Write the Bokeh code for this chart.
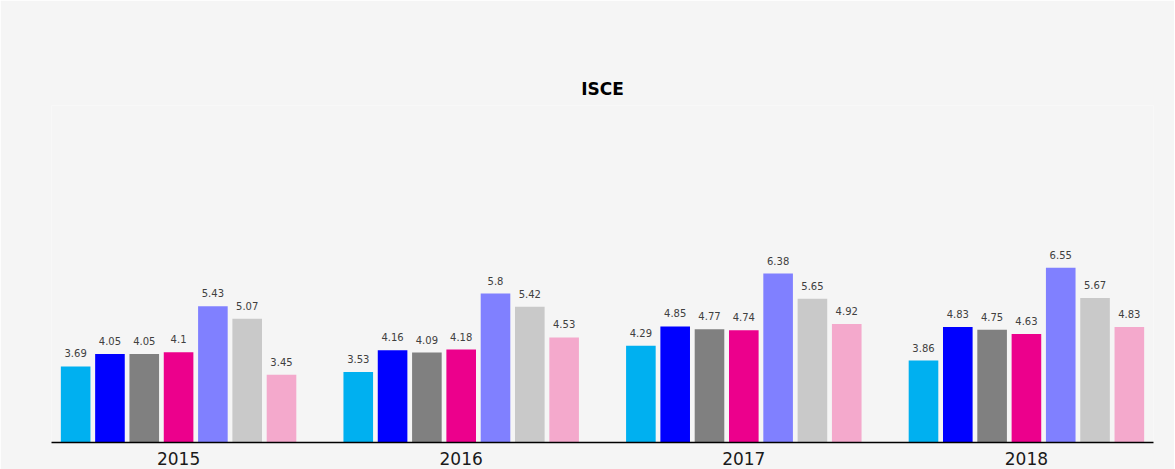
from bokeh.plotting import figure
from bokeh.models import ColumnDataSource, FactorRange, Range1d, LabelSet
from bokeh.transform import dodge
from bokeh.core.properties import value
from bokeh.embed import file_html
from bokeh.resources import INLINE

years = ["2015", "2016", "2017", "2018"]
series_names = ["s1", "s2", "s3", "s4", "s5", "s6", "s7"]
s1 = [3.69, 3.53, 4.29, 3.86]
s2 = [4.05, 4.16, 4.85, 4.83]
s3 = [4.05, 4.09, 4.77, 4.75]
s4 = [4.1, 4.18, 4.74, 4.63]
s5 = [5.43, 5.8, 6.38, 6.55]
s6 = [5.07, 5.42, 5.65, 5.67]
s7 = [3.45, 4.53, 4.92, 4.83]
colors = ["#00B0F0", "#0000FF", "#808080", "#EC008C", "#8080FF", "#C9C9C9", "#F4A9CC"]

all_series = [s1, s2, s3, s4, s5, s6, s7]
data = {"year": years}
for name, vals in zip(series_names, all_series):
    data[name] = vals
    data[name + "_lbl"] = [("%g" % v) for v in vals]
source = ColumnDataSource(data)

BG = "#F5F5F5"
p = figure(
    frame_width=1102, frame_height=337,
    x_range=FactorRange(factors=years, factor_padding=0.112),
    y_range=Range1d(1.486, 11.25),
    output_backend="svg", toolbar_location=None,
    title="ISCE",
    min_border_left=51, min_border_right=21, min_border_top=105, min_border_bottom=27,
)
p.background_fill_color = BG
p.border_fill_color = BG
p.outline_line_color = None
p.xgrid.visible = False
p.ygrid.visible = False
p.yaxis.visible = False

p.title.align = "center"
p.title.text_font = "DejaVu Sans"
p.title.text_font_size = "17px"
p.title.text_font_style = "bold"
p.title.text_color = "#000000"
p.title.standoff = 13

slot = 0.135
bw = 0.1165
for i, (name, col) in enumerate(zip(series_names, colors)):
    off = (i - 3) * slot
    p.vbar(x=dodge("year", off, range=p.x_range), top=name, bottom=1.486, width=bw,
           source=source, fill_color=col, line_color=None)
    lbl = LabelSet(x=dodge("year", off, range=p.x_range), y=name, text=name + "_lbl",
                   source=source, text_align="center", text_baseline="bottom",
                   y_offset=9, text_font=value("DejaVu Sans"), text_font_size="10px",
                   text_color="#404040")
    p.add_layout(lbl)

ax = p.xaxis[0]
ax.axis_line_color = "#000000"
ax.axis_line_width = 1.5
ax.major_tick_line_color = None
ax.minor_tick_line_color = None
ax.major_label_text_font = "DejaVu Sans"
ax.major_label_text_font_size = "17px"
ax.major_label_text_color = "#1a1a1a"
ax.major_label_standoff = 3

html = file_html(p, INLINE)
open("out.html", "w").write(html)
